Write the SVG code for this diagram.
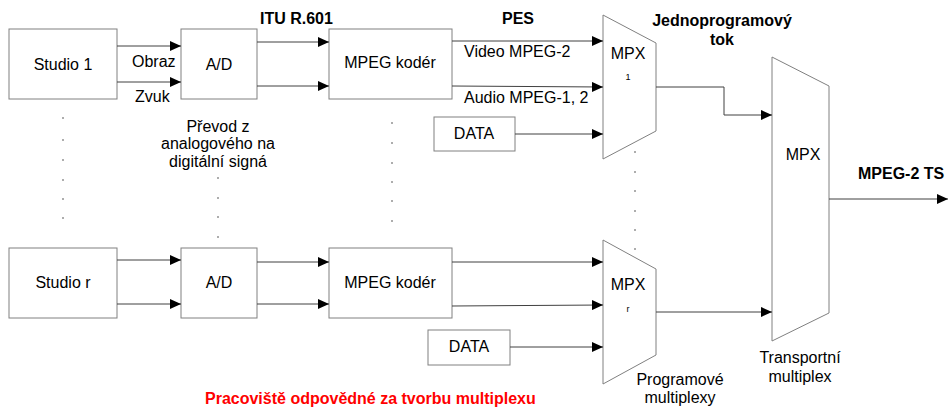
<svg xmlns="http://www.w3.org/2000/svg" width="948" height="408" viewBox="0 0 948 408">
<defs>
<marker id="ah" markerWidth="11" markerHeight="10" refX="11" refY="5" orient="auto" markerUnits="userSpaceOnUse">
<path d="M0,0 L11,5 L0,10 Z" fill="#000"/>
</marker>
<style>
.box{fill:#fff;stroke:#808080;stroke-width:1}
.t{font-family:"Liberation Sans",Arial,sans-serif;font-size:16px;fill:#000}
.b{font-weight:bold}
.c{text-anchor:middle}
.s{font-size:9px}
.red{fill:#ff0000}
.ln{fill:none;stroke:#404040;stroke-width:1}
.arr{marker-end:url(#ah)}
.dot{fill:#444}
</style>
</defs>
<rect width="948" height="408" fill="#fff"/>

<g id="studio1"><rect class="box" x="9" y="29" width="108" height="70"/><text class="t c" x="63" y="70">Studio 1</text></g>
<g id="ad1"><rect class="box" x="181" y="29" width="76" height="70"/><text class="t c" x="219" y="70">A/D</text></g>
<g id="mpeg1"><rect class="box" x="329" y="29" width="123" height="70"/><text class="t c" x="390" y="68">MPEG kodér</text></g>
<g id="data1"><rect class="box" x="434" y="117" width="81" height="34"/><text class="t c" x="474" y="139">DATA</text></g>
<g id="mpx1"><path class="box" d="M603,15 L656,43 L656,131 L603,159 Z"/><text class="t c" x="628" y="59">MPX</text><text class="t c s" x="628" y="80">1</text></g>

<g id="studior"><rect class="box" x="9" y="248" width="108" height="70"/><text class="t c" x="63" y="288">Studio r</text></g>
<g id="adr"><rect class="box" x="181" y="248" width="76" height="70"/><text class="t c" x="219" y="288">A/D</text></g>
<g id="mpegr"><rect class="box" x="329" y="248" width="123" height="70"/><text class="t c" x="390" y="288">MPEG kodér</text></g>
<g id="datar"><rect class="box" x="428" y="330" width="82" height="35"/><text class="t c" x="469" y="352">DATA</text></g>
<g id="mpxr"><path class="box" d="M603,240 L656,269 L656,355 L603,384 Z"/><text class="t c" x="628" y="290">MPX</text><text class="t c s" x="628" y="312">r</text></g>

<g id="mpxt"><path class="box" d="M772,57 L829,86 L829,313 L772,341 Z"/><text class="t c" x="803" y="160">MPX</text></g>

<g id="connectors">
<path class="ln arr" d="M117,46 H181"/>
<path class="ln arr" d="M117,82 H181"/>
<path class="ln arr" d="M257,42 H329"/>
<path class="ln arr" d="M257,86 H329"/>
<path class="ln arr" d="M452,41 H603"/>
<path class="ln arr" d="M452,86 L603,87"/>
<path class="ln arr" d="M515,134 H603"/>
<path class="ln arr" d="M117,260 H181"/>
<path class="ln arr" d="M117,304 H181"/>
<path class="ln arr" d="M257,262 H329"/>
<path class="ln arr" d="M257,304 H329"/>
<path class="ln arr" d="M452,262 H603"/>
<path class="ln arr" d="M452,306 L603,305"/>
<path class="ln arr" d="M510,347 H603"/>
<path class="ln arr" d="M656,87 H724 V115 H772"/>
<path class="ln arr" d="M656,312 H772"/>
<path class="ln arr" d="M829,199 H948"/>
</g>

<g id="labels">
<text class="t" x="132" y="67">Obraz</text>
<text class="t" x="135" y="102">Zvuk</text>
<text class="t b" x="260" y="24">ITU R.601</text>
<text class="t b c" x="518" y="24">PES</text>
<text class="t" x="464" y="57">Video MPEG-2</text>
<text class="t" x="464" y="103">Audio MPEG-1, 2</text>
<text class="t b c" x="722" y="26">Jednoprogramový</text>
<text class="t b c" x="722" y="45">tok</text>
<text class="t b" x="858" y="179">MPEG-2 TS</text>
<text class="t c" x="218" y="132">Převod z</text>
<text class="t c" x="218" y="149">analogového na</text>
<text class="t c" x="218" y="167">digitální signá</text>
<text class="t c" x="800" y="363">Transportní</text>
<text class="t c" x="800" y="382">multiplex</text>
<text class="t c" x="680" y="385">Programové</text>
<text class="t c" x="680" y="403">multiplexy</text>
<text class="t b red" x="205" y="404">Pracoviště odpovědné za tvorbu multiplexu</text>
</g>

<g id="dots">
<circle class="dot" cx="63" cy="118" r="0.8"/><circle class="dot" cx="63" cy="140" r="0.8"/><circle class="dot" cx="63" cy="160" r="0.8"/><circle class="dot" cx="63" cy="180" r="0.8"/><circle class="dot" cx="63" cy="199" r="0.8"/><circle class="dot" cx="63" cy="218" r="0.8"/>
<circle class="dot" cx="218" cy="178" r="0.8"/><circle class="dot" cx="218" cy="198" r="0.8"/><circle class="dot" cx="218" cy="217" r="0.8"/><circle class="dot" cx="218" cy="237" r="0.8"/>
<circle class="dot" cx="392" cy="123" r="0.8"/><circle class="dot" cx="392" cy="143" r="0.8"/><circle class="dot" cx="392" cy="163" r="0.8"/><circle class="dot" cx="392" cy="182" r="0.8"/><circle class="dot" cx="392" cy="201" r="0.8"/><circle class="dot" cx="392" cy="221" r="0.8"/>
<circle class="dot" cx="635" cy="152" r="0.8"/><circle class="dot" cx="635" cy="172" r="0.8"/><circle class="dot" cx="635" cy="191" r="0.8"/><circle class="dot" cx="635" cy="211" r="0.8"/><circle class="dot" cx="635" cy="230" r="0.8"/><circle class="dot" cx="635" cy="249" r="0.8"/>
</g>
</svg>
